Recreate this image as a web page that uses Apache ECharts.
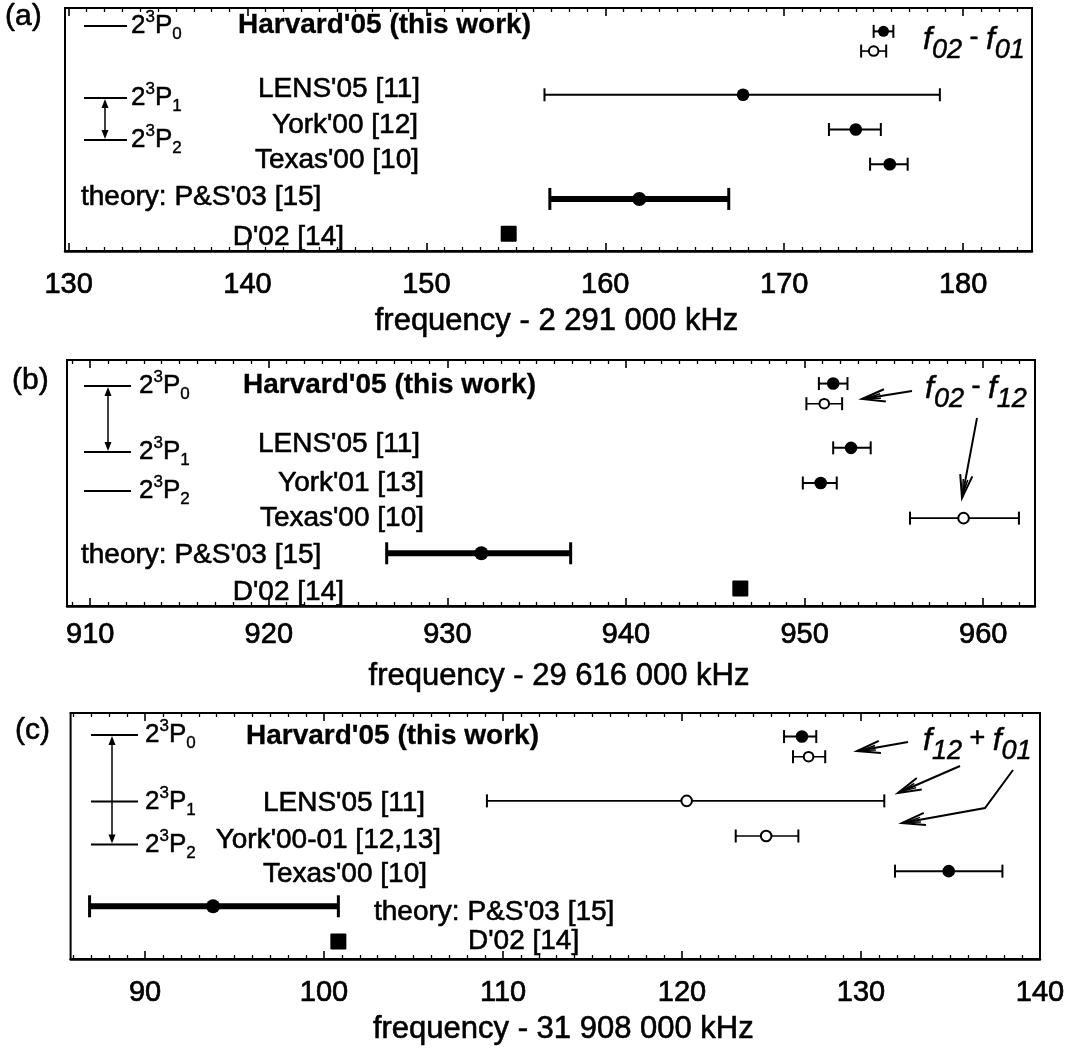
<!DOCTYPE html>
<html>
<head>
<meta charset="utf-8">
<script src="https://cdn.jsdelivr.net/npm/echarts@6.0.0/dist/echarts.min.js"></script>
<style>
html,body{margin:0;padding:0;background:#fff;}
#chart{width:1069px;height:1049px;}
</style>
</head>
<body>
<div id="chart"></div>
<script>
const FONT = "'Liberation Sans', Arial, Helvetica, sans-serif";
const INK = '#000';

// ---------- Panel (a): f02 - f01 ----------
const rowsA  = ["Harvard'05 (this work) a", "Harvard'05 (this work) b", "LENS'05 [11]", "York'00 [12]", "Texas'00 [10]", "P&S'03 [15]", "D'02 [14]"];
const markA  = ['fillS', 'openS', 'fill', 'fill', 'fill', 'theory', 'square'];
const valA   = [175.55, 175.0, 167.7, 174.0, 175.9, 161.9, 154.6];
const lowA   = [175.0, 174.3, 156.6, 172.5, 174.8, 156.9, 154.6];
const highA  = [176.1, 175.7, 178.7, 175.4, 176.9, 166.9, 154.6];
const ticksA = [130, 140, 150, 160, 170, 180];
const rangeA = [129.8, 183.85];
const titleA = 'frequency - 2 291 000 kHz';

// ---------- Panel (b): f02 - f12 ----------
const rowsB  = ["Harvard'05 (this work) a", "Harvard'05 (this work) b", "LENS'05 [11]", "York'01 [13]", "Texas'00 [10]", "P&S'03 [15]", "D'02 [14]"];
const markB  = ['fill', 'openS', 'fill', 'fill', 'open', 'theory', 'square'];
const valB   = [951.6, 951.1, 952.6, 950.9, 958.9, 931.9, 946.4];
const lowB   = [950.8, 950.1, 951.6, 949.9, 955.9, 926.6, 946.4];
const highB  = [952.4, 952.1, 953.7, 951.8, 962.0, 936.9, 946.4];
const ticksB = [910, 920, 930, 940, 950, 960];
const rangeB = [908.7, 962.9];
const titleB = 'frequency - 29 616 000 kHz';

// ---------- Panel (c): f12 + f01 ----------
const rowsC  = ["Harvard'05 (this work) a", "Harvard'05 (this work) b", "LENS'05 [11]", "York'00-01 [12,13]", "Texas'00 [10]", "P&S'03 [15]", "D'02 [14]"];
const markC  = ['fill', 'openS', 'open', 'open', 'fill', 'theory', 'square'];
const valC   = [126.7, 127.07, 120.26, 124.7, 134.9, 93.8, 100.8];
const lowC   = [125.7, 126.2, 109.1, 123.0, 131.9, 86.9, 100.8];
const highC  = [127.5, 128.0, 131.3, 126.5, 137.9, 100.8, 100.8];
const ticksC = [90, 100, 110, 120, 130, 140];
const rangeC = [85.84, 140];
const titleC = 'frequency - 31 908 000 kHz';

const panels = [
  {rows: rowsA, mark: markA, val: valA, low: lowA, high: highA, ticks: ticksA, range: rangeA, title: titleA,
   grid: {left: 65, top: 8, width: 967, height: 243}, labelMargin: 19},
  {rows: rowsB, mark: markB, val: valB, low: lowB, high: highB, ticks: ticksB, range: rangeB, title: titleB,
   grid: {left: 67, top: 360, width: 968, height: 246}, labelMargin: 14},
  {rows: rowsC, mark: markC, val: valC, low: lowC, high: highC, ticks: ticksC, range: rangeC, title: titleC,
   grid: {left: 70.6, top: 713, width: 969.4, height: 246}, labelMargin: 19}
];

// the two Harvard rows are drawn as a tight pair (dodge in px, style only)
const PAIR_DODGE = [6, -9];

function makeRender(marks) {
  return function (params, api) {
    const kind = marks[params.dataIndex];
    const row = api.value(3);
    const pc = api.coord([api.value(0), row]);
    const dodge = params.dataIndex < 2 ? PAIR_DODGE[params.dataIndex] : 0;
    const x = pc[0], y = pc[1] + dodge;
    const xl = api.coord([api.value(1), row])[0];
    const xh = api.coord([api.value(2), row])[0];
    const kids = [];
    if (kind === 'square') {
      kids.push({type: 'rect', shape: {x: x - 8, y: y - 8, width: 16, height: 16, r: 1}, style: {fill: INK}});
      return {type: 'group', children: kids};
    }
    const theory = kind === 'theory';
    const open = kind.indexOf('open') === 0;
    const barW = theory ? 6 : (open ? 1.6 : 2);
    const capH = theory ? 22 : 13;
    const capW = theory ? 3 : 2;
    kids.push({type: 'line', shape: {x1: xl, y1: y, x2: xh, y2: y}, style: {stroke: INK, lineWidth: barW}});
    [xl, xh].forEach(function (cx) {
      kids.push({type: 'line', shape: {x1: cx, y1: y - capH / 2, x2: cx, y2: y + capH / 2}, style: {stroke: INK, lineWidth: capW}});
    });
    if (theory) {
      kids.push({type: 'circle', shape: {cx: x, cy: y, r: 7}, style: {fill: INK}});
    } else if (open) {
      kids.push({type: 'circle', shape: {cx: x, cy: y, r: kind === 'openS' ? 4.8 : 5.3}, style: {fill: '#fff', stroke: INK, lineWidth: 2}});
    } else {
      kids.push({type: 'circle', shape: {cx: x, cy: y, r: kind === 'fillS' ? 5.5 : 6.3}, style: {fill: INK}});
    }
    return {type: 'group', children: kids};
  };
}

const grids = [], xAxes = [], yAxes = [], series = [];
panels.forEach(function (p, gi) {
  grids.push(Object.assign({show: true, borderColor: INK, borderWidth: 2, backgroundColor: 'transparent', containLabel: false, outerBoundsMode: 'none'}, p.grid));
  const minor = [];
  for (let v = Math.ceil(p.range[0]); v <= Math.floor(p.range[1]); v++) {
    if (p.ticks.indexOf(v) < 0) minor.push(v);
  }
  const base = {type: 'value', gridIndex: gi, min: p.range[0], max: p.range[1], splitLine: {show: false}, scale: true};
  const majorTick = {show: true, inside: true, length: 8, customValues: p.ticks, lineStyle: {color: INK, width: 1.6}};
  const minorTick = {show: true, inside: true, length: 4, customValues: minor, lineStyle: {color: INK, width: 1.3}};
  xAxes.push(Object.assign({}, base, {
    position: 'bottom',
    axisLine: {show: true, lineStyle: {color: INK, width: 2.5}},
    axisTick: majorTick,
    axisLabel: {show: true, customValues: p.ticks, margin: p.labelMargin, fontSize: 29, color: INK, fontFamily: FONT,
                textBorderColor: INK, textBorderWidth: 0.7},
    name: p.title, nameLocation: 'middle', nameGap: 55, nameMoveOverlap: false,
    nameTextStyle: {fontSize: 31, color: INK, fontFamily: FONT, padding: [0, 0, 0, 16], textBorderColor: INK, textBorderWidth: 0.6}
  }));
  xAxes.push(Object.assign({}, base, {position: 'bottom', axisLine: {show: false}, axisTick: minorTick, axisLabel: {show: false}}));
  xAxes.push(Object.assign({}, base, {position: 'top', axisLine: {show: true, lineStyle: {color: INK, width: 2}}, axisTick: majorTick, axisLabel: {show: false}}));
  xAxes.push(Object.assign({}, base, {position: 'top', axisLine: {show: false}, axisTick: minorTick, axisLabel: {show: false}}));
  yAxes.push({type: 'category', gridIndex: gi, data: p.rows, inverse: true, show: false, boundaryGap: true});
  series.push({
    type: 'custom', name: 'panel' + gi, coordinateSystem: 'cartesian2d',
    xAxisIndex: gi * 4, yAxisIndex: gi,
    renderItem: makeRender(p.mark),
    encode: {x: [0, 1, 2], y: 3},
    data: p.rows.map(function (r, i) { return [p.val[i], p.low[i], p.high[i], i]; }),
    clip: false, silent: true, z: 5
  });
});

// ---------- annotations (text, level diagrams, arrows) ----------
const graphics = [];
const THICK = {stroke: INK, lineWidth: 0.6};
function txt(text, x, y, extra) {
  graphics.push({type: 'text', z: 10, silent: true,
    style: Object.assign({text: text, x: x, y: y, fill: INK, fontFamily: FONT, fontSize: 28, align: 'left', verticalAlign: 'middle'}, THICK, extra || {})});
}
const levelRich = {
  n: {fontSize: 26, fontFamily: FONT, lineHeight: 34, verticalAlign: 'middle', fill: INK, stroke: INK, lineWidth: 0.5},
  sp: {fontSize: 17, fontFamily: FONT, lineHeight: 18, verticalAlign: 'top', fill: INK, stroke: INK, lineWidth: 0.4},
  sb: {fontSize: 17, fontFamily: FONT, lineHeight: 20, verticalAlign: 'bottom', fill: INK, stroke: INK, lineWidth: 0.4}
};
const fRich = {
  f: {fontSize: 32, fontFamily: FONT, fontStyle: 'italic', lineHeight: 40, verticalAlign: 'top', fill: INK, stroke: INK, lineWidth: 0.5},
  s: {fontSize: 27, fontFamily: FONT, fontStyle: 'italic', lineHeight: 16, verticalAlign: 'bottom', fill: INK, stroke: INK, lineWidth: 0.5},
  d: {fontSize: 27, fontFamily: FONT, lineHeight: 30, verticalAlign: 'top', fill: INK, stroke: INK, lineWidth: 0.5}
};
function hline(x1, x2, y, w) {
  graphics.push({type: 'line', z: 10, silent: true, shape: {x1: x1, y1: y, x2: x2, y2: y}, style: {stroke: INK, lineWidth: w || 2}});
}
function levelIcon(x1, x2, ys, ax, a0, a1, tx) {
  const subs = ['0', '1', '2'];
  ys.forEach(function (y, i) {
    hline(x1, x2, y, 2);
    graphics.push({type: 'text', z: 10, silent: true,
      style: {text: '{n|2}{sp|3}{n|P}{sb|' + subs[i] + '}', rich: levelRich, x: tx, y: y, align: 'left', verticalAlign: 'middle', fill: INK, fontFamily: FONT}});
  });
  const yTop = ys[a0], yBot = ys[a1], h = 9, hw = 3.5;
  graphics.push({type: 'line', z: 10, silent: true, shape: {x1: ax, y1: yTop + h, x2: ax, y2: yBot - h}, style: {stroke: INK, lineWidth: 1.5}});
  graphics.push({type: 'polygon', z: 10, silent: true, shape: {points: [[ax, yTop + 1], [ax - hw, yTop + h + 1], [ax + hw, yTop + h + 1]]}, style: {fill: INK}});
  graphics.push({type: 'polygon', z: 10, silent: true, shape: {points: [[ax, yBot - 1], [ax - hw, yBot - h - 1], [ax + hw, yBot - h - 1]]}, style: {fill: INK}});
}
function annArrow(pts) {
  const n = pts.length;
  const tx = pts[n - 1][0], ty = pts[n - 1][1];
  const px = pts[n - 2][0], py = pts[n - 2][1];
  const ang = Math.atan2(py - ty, px - tx);
  const L = 24, a = 0.26;
  const b1 = [tx + L * Math.cos(ang + a), ty + L * Math.sin(ang + a)];
  const b2 = [tx + L * Math.cos(ang - a), ty + L * Math.sin(ang - a)];
  const L2 = 15;
  const c1 = [tx + L2 * Math.cos(ang + a * 0.6) + 4 * Math.cos(ang), ty + L2 * Math.sin(ang + a * 0.6) + 4 * Math.sin(ang)];
  const c2 = [tx + L2 * Math.cos(ang - a * 0.6) + 4 * Math.cos(ang), ty + L2 * Math.sin(ang - a * 0.6) + 4 * Math.sin(ang)];
  graphics.push({type: 'polyline', z: 10, silent: true, shape: {points: pts}, style: {stroke: INK, lineWidth: 2, fill: null}});
  graphics.push({type: 'polyline', z: 10, silent: true, shape: {points: [b1, [tx, ty], b2]}, style: {stroke: INK, lineWidth: 2, fill: null}});
  graphics.push({type: 'polyline', z: 10, silent: true, shape: {points: [c1, [tx + 4 * Math.cos(ang), ty + 4 * Math.sin(ang)], c2]}, style: {stroke: INK, lineWidth: 1.5, fill: null}});
}

// panel (a)
txt('(a)', 5, 17, {fontSize: 30});
txt("Harvard'05 (this work)", 238, 25, {fontWeight: 'bold', lineWidth: 0.3});
txt("LENS'05 [11]", 420, 89, {align: 'right'});
txt("York'00 [12]", 418, 125, {align: 'right'});
txt("Texas'00 [10]", 419, 160, {align: 'right'});
txt("theory: P&S'03 [15]", 81, 197);
txt("D'02 [14]", 344, 237, {align: 'right'});
levelIcon(84, 127, [26, 98, 140], 105, 1, 2, 131);
graphics.push({type: 'text', z: 10, silent: true, style: {text: '{f|f}{s|02}{d| - }{f|f}{s|01}', rich: fRich, x: 923, y: 44, align: 'left', verticalAlign: 'middle', fill: INK}});

// panel (b)
txt('(b)', 12, 381, {fontSize: 30});
txt("Harvard'05 (this work)", 243, 385, {fontWeight: 'bold', lineWidth: 0.3});
txt("LENS'05 [11]", 420, 444, {align: 'right'});
txt("York'01 [13]", 424, 483, {align: 'right'});
txt("Texas'00 [10]", 424, 518, {align: 'right'});
txt("theory: P&S'03 [15]", 81, 555);
txt("D'02 [14]", 344, 592, {align: 'right'});
levelIcon(84, 131, [386, 452, 491], 108, 0, 1, 139);
graphics.push({type: 'text', z: 10, silent: true, style: {text: '{f|f}{s|02}{d| - }{f|f}{s|12}', rich: fRich, x: 925, y: 393, align: 'left', verticalAlign: 'middle', fill: INK}});
annArrow([[912, 391], [862, 399]]);
annArrow([[977, 418], [962, 498]]);

// panel (c)
txt('(c)', 15, 731, {fontSize: 30});
txt("Harvard'05 (this work)", 246, 736, {fontWeight: 'bold', lineWidth: 0.3});
txt("LENS'05 [11]", 425, 803, {align: 'right'});
txt("York'00-01 [12,13]", 441, 840, {align: 'right'});
txt("Texas'00 [10]", 427, 874, {align: 'right'});
txt("theory: P&S'03 [15]", 374, 912);
txt("D'02 [14]", 468, 941);
levelIcon(91, 138, [735, 801.5, 844.5], 112, 0, 2, 145);
graphics.push({type: 'text', z: 10, silent: true, style: {text: '{f|f}{s|12}{d| + }{f|f}{s|01}', rich: fRich, x: 923, y: 745, align: 'left', verticalAlign: 'middle', fill: INK}});
annArrow([[908, 742], [857, 751]]);
annArrow([[960, 766], [898, 793]]);
annArrow([[1013, 770], [985, 808], [902, 823]]);

const chart = echarts.init(document.getElementById('chart'), null, {renderer: 'canvas'});
chart.setOption({
  animation: false,
  backgroundColor: '#fff',
  textStyle: {fontFamily: FONT},
  grid: grids,
  xAxis: xAxes,
  yAxis: yAxes,
  series: series,
  graphic: graphics
});
</script>
</body>
</html>
